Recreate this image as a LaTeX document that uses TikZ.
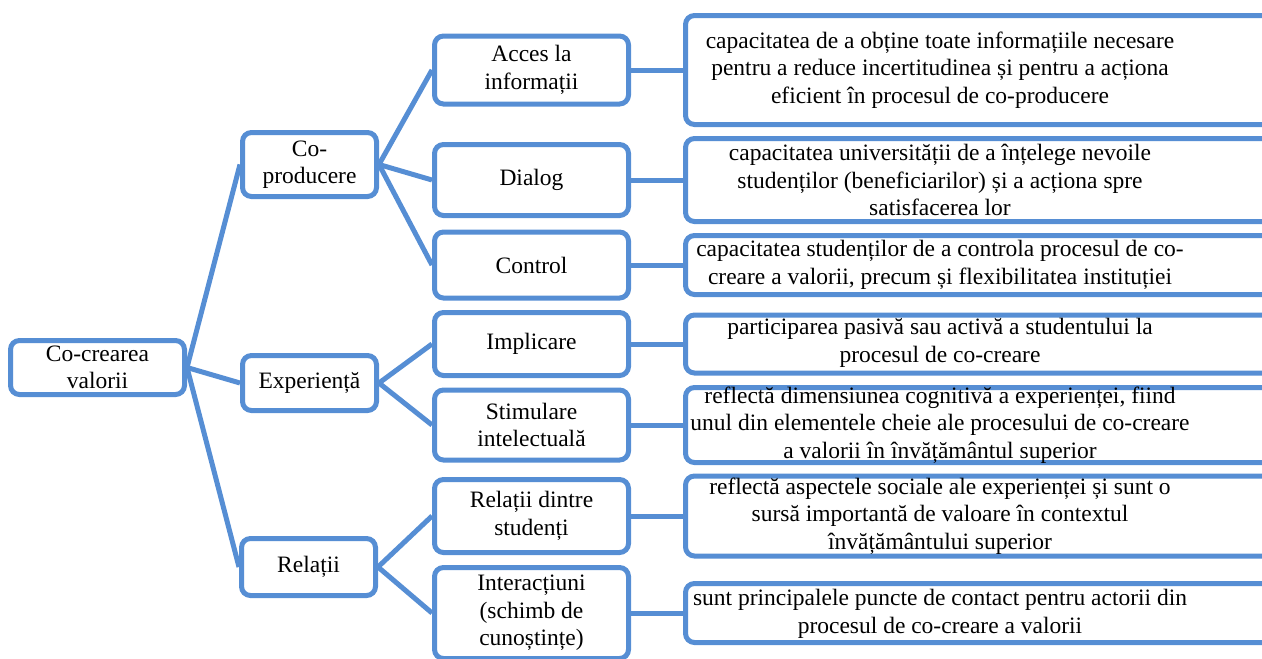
\documentclass[tikz,border=0pt]{standalone}
\usepackage{fontspec}
\setmainfont{Liberation Serif}
\newfontfamily\tnr{Liberation Serif}
\definecolor{bl}{HTML}{568ED4}
\tikzset{
 box/.style={draw=bl, line width=5pt, rounded corners=9pt, inner sep=0pt, align=center,
   font=\tnr\fontsize{23.5}{27.5}\selectfont, fill=white},
 conn/.style={draw=bl, line width=5pt},
 txt/.style={inner sep=0pt, align=center, font=\tnr\fontsize{23.5}{27.5}\selectfont}
}
\begin{document}
\begin{tikzpicture}[x=1pt,y=-1pt]
\useasboundingbox (0,0) rectangle (1262,659);
\clip (0,0) rectangle (1262,659);
% level 0
\node[box, minimum width=174pt, minimum height=54pt] (root) at (97.5,367.5) {Co-crearea\\valorii};
% level 1
\node[box, minimum width=134pt, minimum height=64pt] (cop) at (309.5,164.5) {Co-\\producere};
\node[box, minimum width=134pt, minimum height=55pt] (exp) at (309.5,383) {Experiență};
\node[box, minimum width=134pt, minimum height=57pt] (rel) at (308.5,567) {Relații};
% level 2
\node[box, minimum width=194pt, minimum height=68pt] (acc) at (531.5,70) {Acces la\\informații};
\node[box, minimum width=194pt, minimum height=71pt] (dia) at (531.5,180) {Dialog};
\node[box, minimum width=194pt, minimum height=66pt] (ctl) at (531.5,265) {Control};
\node[box, minimum width=194pt, minimum height=63pt] (imp) at (531.5,344) {Implicare};
\node[box, minimum width=194pt, minimum height=70pt] (sti) at (531.5,425) {Stimulare\\intelectuală};
\node[box, minimum width=194pt, minimum height=73pt] (rds) at (531.5,516) {Relații dintre\\studenți};
\node[box, minimum width=194pt, minimum height=91pt] (int) at (531.5,613) {Interacțiuni\\(schimb de\\cunoștințe)};
% level 3 boxes
\node[box, minimum width=587pt, minimum height=109pt] (d1) at (979,70) {};
\node[box, minimum width=587pt, minimum height=83pt] (d2) at (979,180) {};
\node[box, minimum width=587pt, minimum height=59pt] (d3) at (979,265) {};
\node[box, minimum width=587pt, minimum height=58pt] (d4) at (979,344) {};
\node[box, minimum width=587pt, minimum height=75pt] (d5) at (979,425) {};
\node[box, minimum width=587pt, minimum height=80pt] (d6) at (979,516) {};
\node[box, minimum width=587pt, minimum height=59pt] (d7) at (979,613) {};
% level 3 texts
\node[txt] (t1) at (940,70) {capacitatea de a obține toate informațiile necesare\\pentru a reduce incertitudinea și pentru a acționa\\eficient în procesul de co-producere};
\node[txt] (t2) at (940,180) {capacitatea universității de a înțelege nevoile\\studenților (beneficiarilor) și a acționa spre\\satisfacerea lor};
\node[txt] (t3) at (940,265) {capacitatea studenților de a controla procesul de co-\\creare a valorii, precum și flexibilitatea instituției};
\node[txt] (t4) at (940,343) {participarea pasivă sau activă a studentului la\\procesul de co-creare};
\node[txt] (t5) at (940,425) {reflectă dimensiunea cognitivă a experienței, fiind\\unul din elementele cheie ale procesului de co-creare\\a valorii în învățământul superior};
\node[txt] (t6) at (940,516) {reflectă aspectele sociale ale experienței și sunt o\\sursă importantă de valoare în contextul\\învățământului superior};
\node[txt] (t7) at (940,614) {sunt principalele puncte de contact pentru actorii din\\procesul de co-creare a valorii};
% connectors
\draw[conn] (root.east) -- (cop.west);
\draw[conn] (root.east) -- (exp.west);
\draw[conn] (root.east) -- (rel.west);
\draw[conn] (cop.east) -- (acc.west);
\draw[conn] (cop.east) -- (dia.west);
\draw[conn] (cop.east) -- (ctl.west);
\draw[conn] (exp.east) -- (imp.west);
\draw[conn] (exp.east) -- (sti.west);
\draw[conn] (rel.east) -- (rds.west);
\draw[conn] (rel.east) -- (int.west);
\draw[conn] (acc.east) -- (d1.west);
\draw[conn] (dia.east) -- (d2.west);
\draw[conn] (ctl.east) -- (d3.west);
\draw[conn] (imp.east) -- (d4.west);
\draw[conn] (sti.east) -- (d5.west);
\draw[conn] (rds.east) -- (d6.west);
\draw[conn] (int.east) -- (d7.west);
\end{tikzpicture}
\end{document}
